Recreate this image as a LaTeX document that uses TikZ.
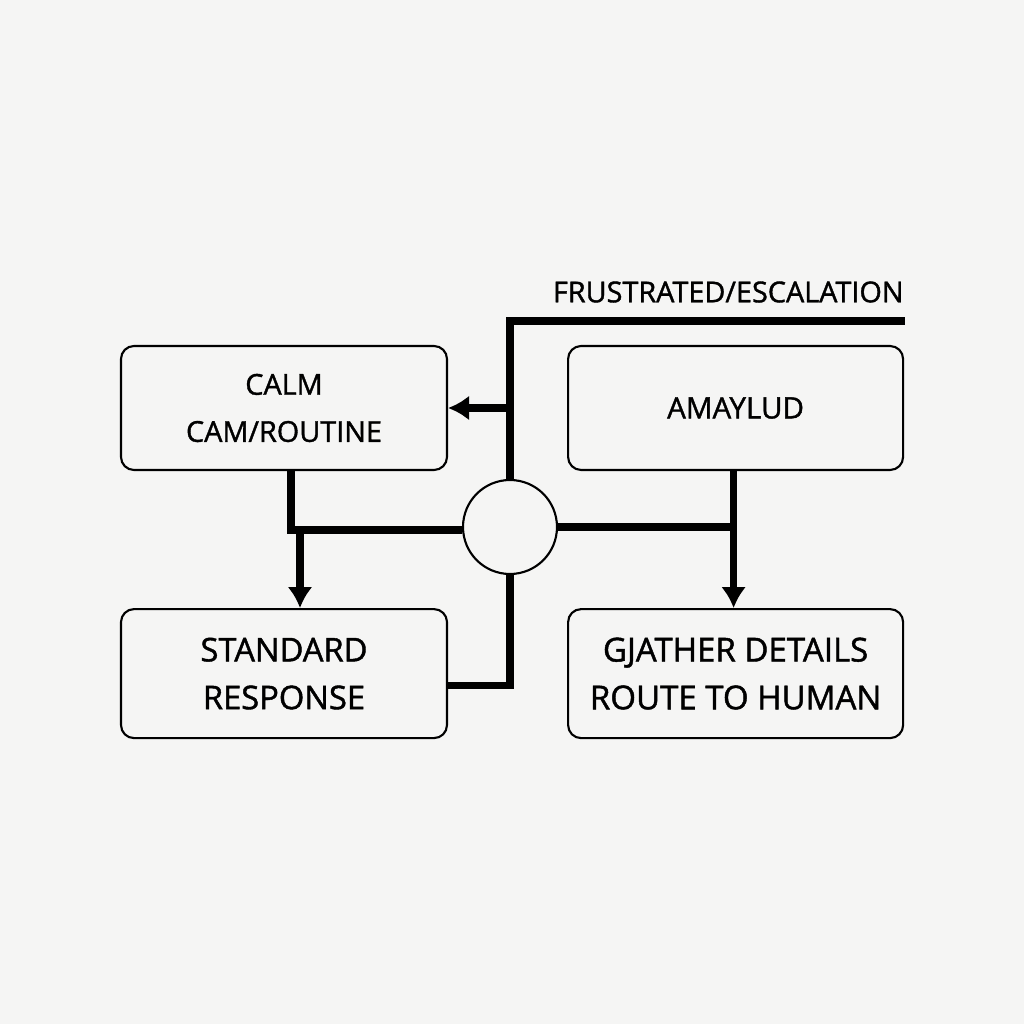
\documentclass[tikz,border=0pt]{standalone}
\usepackage{fontspec}
\setmainfont{Open Sans}
\newfontfamily\labelfont{Open Sans}[FakeBold=1.3]
\usetikzlibrary{arrows.meta, positioning, calc}
\definecolor{paper}{RGB}{245,245,244}

\begin{document}
\begin{tikzpicture}[thick, node distance=1.37cm and 1.19cm,
    box/.style={draw, line width=0.6pt, rounded corners=1.3mm, fill=paper, align=center, inner sep=0pt},
    flow/.style={line width=2pt},
    arr/.style={line width=2pt, -{Latex[length=2.1mm, width=2.5mm]}}]
        % Background
        \fill[paper] (0,0) rectangle (10.24,10.24);
        \useasboundingbox (0,0) rectangle (10.24,10.24);

        % Nodes
        \node[box, minimum width=3.26cm, minimum height=1.24cm, font={\labelfont\fontsize{8.2}{13.4}\selectfont}] (calm) at (2.84,6.16) {CALM\\CAM/ROUTINE};
        \node[box, minimum width=3.35cm, minimum height=1.24cm, font={\labelfont\fontsize{8.4}{13.4}\selectfont}, right=of calm] (amaylud) {AMAYLUD};
        \node[box, minimum width=3.26cm, minimum height=1.29cm, font={\labelfont\fontsize{9.3}{13.6}\selectfont}, below=of calm] (standard) {STANDARD\\RESPONSE};
        \node[box, minimum width=3.35cm, minimum height=1.29cm, font={\labelfont\fontsize{9.4}{13.6}\selectfont}, right=of standard] (gather) {GJATHER DETAILS\\ROUTE TO HUMAN};
        \node[draw, circle, line width=0.6pt, fill=paper, minimum size=0.94cm] (hub) at (5.10,4.97) {};

        \coordinate (esc) at (9.05,7.03);
        \node[anchor=south east, inner sep=0pt, font={\labelfont\fontsize{8.2}{11}\selectfont}] (esclabel) at (9.05,7.20) {FRUSTRATED/ESCALATION};

        % Arrows
        \draw[flow] (hub.north) |- (esc);
        \draw[arr] (hub.north |- calm.east) -- (calm.east);
        \draw[flow] ([xshift=0.07cm]calm.south) |- ([yshift=-0.03cm]hub.west);
        \draw[arr] ([xshift=0.16cm]calm.south |- hub.west) -- ([xshift=0.16cm]standard.north);
        \draw[flow] ([yshift=-0.12cm]standard.east) -| (hub.south);
        \draw[flow] (hub.east) -- ([xshift=-0.02cm]amaylud.south |- hub.east);
        \draw[arr] ([xshift=-0.02cm]amaylud.south) -- ([xshift=-0.02cm]gather.north);
    \end{tikzpicture}
\end{document}
